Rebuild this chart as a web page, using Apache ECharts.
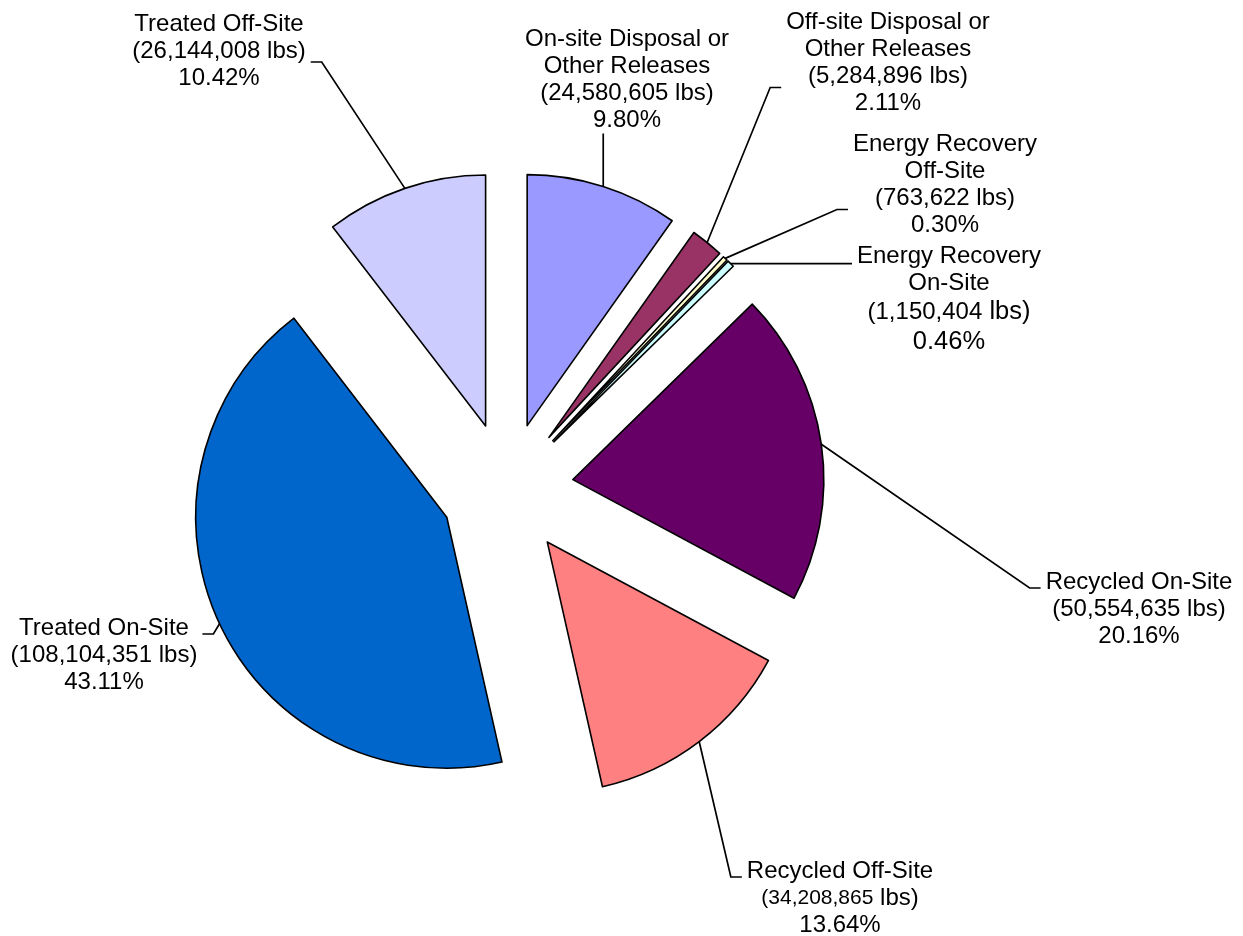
<!DOCTYPE html>
<html>
<head>
<meta charset="utf-8">
<script src="https://cdn.jsdelivr.net/npm/echarts@6/dist/echarts.min.js"></script>
<style>
html,body{margin:0;padding:0;background:#ffffff;}
#chart{width:1243px;height:936px;}
</style>
</head>
<body>
<div id="chart"></div>
<script>
// ---- data ----
const categories = [
  'On-site Disposal or\nOther Releases',
  'Off-site Disposal or\nOther Releases',
  'Energy Recovery\nOff-Site',
  'Energy Recovery\nOn-Site',
  'Recycled On-Site',
  'Recycled Off-Site',
  'Treated On-Site',
  'Treated Off-Site'
];
const pounds = [24580605, 5284896, 763622, 1150404, 50554635, 34208865, 108104351, 26144008];
const colors = ['#9999FF', '#993366', '#FFFFCC', '#CCFFFF', '#660066', '#FF8080', '#0066CC', '#CCCCFF'];

// ---- layout / style ----
const CENTER = [507, 489];
const RADIUS = 251;
const EXPLODE = 66.5;
const FONT = 'Arial, "Liberation Sans", sans-serif';
// label block centres
const LABEL_CENTERS = [[627, 80], [888, 63], [945, 185], [949, 300], [1139, 609], [840, 898], [104, 655], [219, 51]];
// rich style names for: amount digits, " lbs)" unit, percentage
const AMOUNT_STYLE = ['t', 't', 't', 't', 't', 's', 't', 't'];
const UNIT_STYLE   = ['t', 't', 't', 'b', 't', 't', 't', 't'];
const PCT_STYLE    = ['t', 't', 't', 'b', 't', 't', 't', 't'];
const GAP = 5, LEN2 = 11;

const total = pounds.reduce((a, b) => a + b, 0);

function labelText(i) {
  const nameLines = categories[i].split('\n').map(s => '{t|' + s + '}');
  const amount = '(' + pounds[i].toLocaleString('en-US');
  const pct = (pounds[i] / total * 100).toFixed(2) + '%';
  nameLines.push('{' + AMOUNT_STYLE[i] + '|' + amount + '}{' + UNIT_STYLE[i] + '| lbs)}');
  nameLines.push('{' + PCT_STYLE[i] + '|' + pct + '}');
  return nameLines.join('\n');
}

function labelLayout(p) {
  const i = p.dataIndex;
  const c = LABEL_CENTERS[i];
  const w = p.labelRect.width, h = p.labelRect.height;
  const left = c[0] - w / 2, right = c[0] + w / 2, top = c[1] - h / 2, bottom = c[1] + h / 2;
  const a = p.labelLinePoints ? p.labelLinePoints[0] : c;
  let pts;
  if (a[0] > left && a[0] < right) {
    const yEnd = a[1] > bottom ? bottom + 1 : top - 1;
    pts = [a, [a[0], yEnd], [a[0], yEnd]];
  } else {
    const anchorRight = a[0] >= right;
    const ex = anchorRight ? right + GAP : left - GAP;
    const ey = Math.min(Math.max(a[1], top + 18), bottom - 28);
    const bx = anchorRight ? ex + LEN2 : ex - LEN2;
    pts = [a, [bx, ey], [ex, ey]];
  }
  return { x: c[0], y: c[1], align: 'center', verticalAlign: 'middle', labelLinePoints: pts };
}

const richBase = { color: '#000', fontFamily: FONT, align: 'center' };
const rich = {
  t: Object.assign({ fontSize: 24, lineHeight: 27 }, richBase),
  b: Object.assign({ fontSize: 25.5, lineHeight: 30 }, richBase),
  s: Object.assign({ fontSize: 21, lineHeight: 27 }, richBase)
};

// one pie layer per slice so each slice can be pulled out along its own bisector
let cum = 0;
const series = categories.map((name, i) => {
  const mid = (cum + pounds[i] / 2) / total * 2 * Math.PI;
  cum += pounds[i];
  return {
    type: 'pie',
    center: [CENTER[0] + EXPLODE * Math.sin(mid), CENTER[1] - EXPLODE * Math.cos(mid)],
    radius: RADIUS,
    startAngle: 90,
    clockwise: true,
    avoidLabelOverlap: false,
    animation: false,
    silent: true,
    labelLayout: labelLayout,
    data: categories.map((n, j) => ({
      name: n,
      value: pounds[j],
      itemStyle: j === i
        ? { color: colors[j], borderColor: '#000000', borderWidth: 1.6 }
        : { color: 'rgba(0,0,0,0)', borderWidth: 0 },
      label: j === i
        ? { show: true, position: 'outside', formatter: () => labelText(j), rich: rich, color: '#000' }
        : { show: false },
      labelLine: j === i
        ? { show: true, length: 10, length2: 10, smooth: false, lineStyle: { color: '#000', width: 1.7 } }
        : { show: false }
    }))
  };
});

const chart = echarts.init(document.getElementById('chart'), null, { renderer: 'canvas' });
chart.setOption({
  backgroundColor: '#ffffff',
  animation: false,
  series: series
});
</script>
</body>
</html>
